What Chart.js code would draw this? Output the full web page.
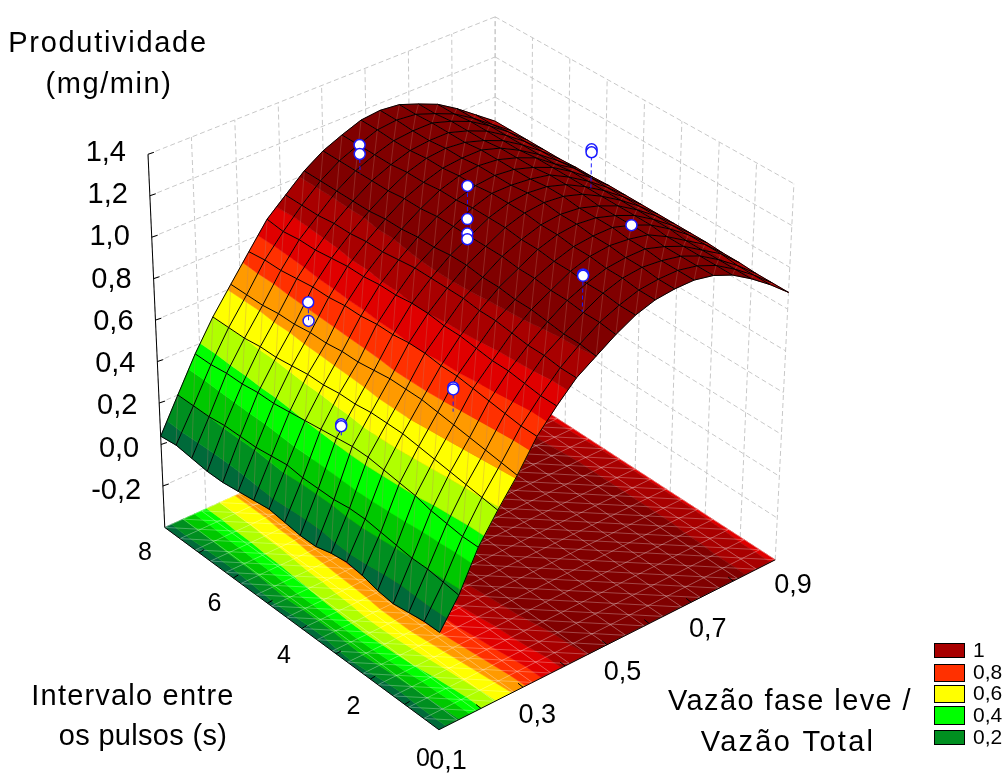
<!DOCTYPE html>
<html>
<head>
<meta charset="utf-8">
<title>Produtividade</title>
<script src="https://cdn.jsdelivr.net/npm/chart.js@4"></script>
<style>
    html, body { margin: 0; padding: 0; background: #fff; }
    canvas { display: block; }
</style>
</head>
<body>
<canvas id="chart" width="1008" height="773"></canvas>
<script>
const xTicks = [0.1, 0.3, 0.5, 0.7, 0.9];
const xGridLines = [0.1, 0.2, 0.3, 0.4, 0.5, 0.6, 0.7, 0.8, 0.9];
const yTicks = [0, 2, 4, 6, 8];
const yGridLines = [0, 1, 2, 3, 4, 5, 6, 7, 8];
const zTicks = [1.4, 1.2, 1.0, 0.8, 0.6, 0.4, 0.2, 0.0, -0.2];
const zGridLines = [1.4, 1.2, 1.0, 0.8, 0.6, 0.4, 0.2, 0.0, -0.2, -0.4];

// surface heights, rows run y = 0 .. 8, columns x = 0.1 .. 0.9
const zGrid = [
    [.05, .18, .36, .49, .61, .75, .85, .94, 1.00, 1.06, 1.11, 1.14, 1.15, 1.15, 1.13, 1.09, 1.03, .96, .88],
    [.05, .19, .36, .50, .62, .75, .85, .94, 1.01, 1.07, 1.11, 1.14, 1.15, 1.15, 1.13, 1.09, 1.03, .96, .88],
    [.04, .20, .37, .51, .63, .76, .86, .95, 1.01, 1.07, 1.12, 1.15, 1.16, 1.15, 1.13, 1.09, 1.03, .96, .88],
    [.03, .20, .38, .52, .64, .77, .87, .95, 1.02, 1.08, 1.12, 1.15, 1.16, 1.16, 1.13, 1.09, 1.03, .97, .885],
    [.04, .21, .40, .53, .65, .78, .87, .96, 1.03, 1.08, 1.13, 1.16, 1.17, 1.16, 1.14, 1.09, 1.03, .97, .885],
    [.06, .22, .41, .54, .66, .79, .88, .97, 1.03, 1.09, 1.13, 1.16, 1.17, 1.17, 1.14, 1.10, 1.04, .97, .89],
    [.07, .23, .42, .55, .67, .79, .89, .97, 1.04, 1.09, 1.14, 1.17, 1.18, 1.17, 1.14, 1.10, 1.04, .97, .89],
    [.06, .23, .43, .55, .67, .80, .89, .98, 1.04, 1.10, 1.14, 1.17, 1.18, 1.17, 1.14, 1.10, 1.04, .97, .89],
    [.04, .22, .43, .55, .67, .80, .90, .98, 1.05, 1.10, 1.15, 1.18, 1.19, 1.18, 1.15, 1.10, 1.04, .97, .89],
    [.04, .22, .42, .54, .66, .79, .90, .98, 1.05, 1.10, 1.15, 1.18, 1.19, 1.18, 1.15, 1.10, 1.04, .97, .89],
    [.05, .22, .41, .54, .65, .79, .89, .98, 1.04, 1.10, 1.15, 1.18, 1.18, 1.17, 1.15, 1.10, 1.04, .97, .89],
    [.06, .23, .40, .53, .65, .78, .89, .97, 1.04, 1.10, 1.14, 1.17, 1.18, 1.17, 1.14, 1.10, 1.04, .97, .89],
    [.05, .22, .39, .53, .64, .78, .88, .96, 1.03, 1.09, 1.14, 1.17, 1.18, 1.17, 1.14, 1.10, 1.03, .97, .885],
    [.04, .21, .38, .52, .64, .77, .88, .96, 1.03, 1.09, 1.13, 1.16, 1.17, 1.17, 1.14, 1.09, 1.03, .96, .885],
    [.03, .21, .38, .51, .63, .77, .87, .95, 1.02, 1.08, 1.13, 1.16, 1.17, 1.16, 1.13, 1.09, 1.03, .96, .88],
    [.03, .21, .37, .51, .63, .76, .86, .95, 1.02, 1.08, 1.12, 1.15, 1.16, 1.16, 1.13, 1.09, 1.03, .96, .88],
    [.04, .20, .37, .50, .62, .75, .86, .94, 1.02, 1.08, 1.12, 1.15, 1.16, 1.16, 1.13, 1.09, 1.03, .96, .88],
    [.05, .20, .36, .50, .62, .75, .85, .94, 1.02, 1.08, 1.12, 1.155, 1.165, 1.155, 1.12, 1.08, 1.02, .95, .88],
    [.04, .20, .36, .50, .62, .74, .86, .94, 1.02, 1.08, 1.12, 1.155, 1.165, 1.155, 1.12, 1.08, 1.02, .95, .88]
];

// measured points: x, y, z
const pointX = [0.5, 0.5, 0.5, 0.5, 0.5, 0.5, 0.8, 0.8, 0.7, 0.5, 0.5, 0.3, 0.3, 0.3, 0.3, 0.2, 0.2];
const pointY = [6.99, 6.99, 4.06, 4.06, 4.06, 4.06, 4.23, 4.23, 1.97, 0.92, 0.92, 6.09, 6.09, 2.06, 2.06, 4, 4];
const pointZ = [1.219, 1.175, 1.336, 1.177, 1.107, 1.08, 1.227, 1.213, 1.187, 1.246, 1.24, 0.731, 0.641, 0.774, 0.765, 0.474, 0.465];
// index of the point that sits under the surface
const hiddenPoint = 12;

const bandLimits = [-9, 0.1, 0.2, 0.3, 0.4, 0.5, 0.6, 0.7, 0.8, 0.9, 1.0, 9];
const bandColors = ['#006a3a', '#008f20', '#00c800', '#00ff00', '#b0ff00', '#ffff00', '#ff9a00', '#ff3000', '#e00000', '#a80000', '#800000'];
const legendLabels = ['1', '0,8', '0,6', '0,4', '0,2'];
const legendColors = ['#a80000', '#ff3000', '#ffff00', '#00ff00', '#008f20'];

// box corners on the page: front, right, left, back
const floorBox = [[438, 736], [779, 563], [160, 530], [495, 378]];
const topBox = [[441, 340], [798, 180], [143, 150], [495, 10]];

function corner(box, u, v) {
    const a = (1 - u) * (1 - v), b = u * (1 - v), c = (1 - u) * v, d = u * v;
    return [a * box[0][0] + b * box[1][0] + c * box[2][0] + d * box[3][0],
            a * box[0][1] + b * box[1][1] + c * box[2][1] + d * box[3][1]];
}

function project(x, y, z) {
    const u = (x - 0.1) / 0.8, v = y / 8, w = (z + 0.4) / 1.8;
    const f = corner(floorBox, u, v), t = corner(topBox, u, v);
    return { x: f[0] + (t[0] - f[0]) * w, y: f[1] + (t[1] - f[1]) * w };
}

const cols = zGrid[0].length, rows = zGrid.length;
const gx = (i) => 0.1 + 0.8 * i / (cols - 1);
const gy = (j) => 8 * j / (rows - 1);

// clip a polygon of [x, y, z] to one side of a height
function clipZ(poly, limit, keepAbove) {
    const out = [];
    poly.forEach((p, k) => {
        const q = poly[(k + 1) % poly.length];
        const pIn = keepAbove ? p[2] >= limit : p[2] <= limit;
        const qIn = keepAbove ? q[2] >= limit : q[2] <= limit;
        if (pIn) out.push(p);
        if (pIn !== qIn) {
            const s = (limit - p[2]) / (q[2] - p[2]);
            out.push([p[0] + (q[0] - p[0]) * s, p[1] + (q[1] - p[1]) * s, limit]);
        }
    });
    return out;
}

function lineSet(data, color, width, dash) {
    return { data, borderColor: color, borderWidth: width, borderDash: dash || [], showLine: true, pointRadius: 0, fill: false, tension: 0 };
}

function fillSet(data, color) {
    return { data, backgroundColor: color, borderColor: color, borderWidth: 0.6, showLine: true, pointRadius: 0, fill: 'shape', tension: 0 };
}

function pointSet(data) {
    return {
        data, showLine: false, pointRadius: 5.5, pointBorderWidth: 1.5,
        pointBackgroundColor: '#fff', pointBorderColor: '#1a1aff'
    };
}

const paint = [];

// walls
const wallColor = '#c8c8c8', wallDash = [5, 3];
xGridLines.forEach((x) => paint.push(lineSet([project(x, 8, -0.4), project(x, 8, 1.4)], wallColor, 1, wallDash)));
yGridLines.forEach((y) => paint.push(lineSet([project(0.9, y, -0.4), project(0.9, y, 1.4)], wallColor, 1, wallDash)));
zGridLines.forEach((z) => {
    paint.push(lineSet([project(0.1, 8, z), project(0.9, 8, z)], wallColor, 1, wallDash));
    paint.push(lineSet([project(0.9, 8, z), project(0.9, 0, z)], wallColor, 1, wallDash));
});

// one surface: far cells first so near cells paint over them
function addCells(flat) {
    const hi = Math.floor((pointX[hiddenPoint] - 0.1) / 0.8 * (cols - 1));
    const hj = Math.floor(pointY[hiddenPoint] / 8 * (rows - 1));
    for (let j = rows - 2; j >= 0; j--) {
        for (let i = cols - 2; i >= 0; i--) {
            const quad = [
                [gx(i), gy(j), zGrid[j][i]],
                [gx(i + 1), gy(j), zGrid[j][i + 1]],
                [gx(i + 1), gy(j + 1), zGrid[j + 1][i + 1]],
                [gx(i), gy(j + 1), zGrid[j + 1][i]]
            ];
            bandColors.forEach((color, b) => {
                let poly = clipZ(quad, bandLimits[b], true);
                if (poly.length) poly = clipZ(poly, bandLimits[b + 1], false);
                if (poly.length < 3) return;
                const pts = poly.map((p) => project(p[0], p[1], flat ? -0.4 : p[2]));
                pts.push(pts[0]);
                paint.push(fillSet(pts, color));
            });
            if (!flat && i === hi && j === hj) {
                paint.push(pointSet([project(pointX[hiddenPoint], pointY[hiddenPoint], pointZ[hiddenPoint])]));
            }
        }
    }
}

// floor contour and its light mesh
addCells(true);
const floorMesh = 'rgba(255,255,255,0.28)';
for (let i = 0; i < cols; i++) paint.push(lineSet([project(gx(i), 0, -0.4), project(gx(i), 8, -0.4)], floorMesh, 1));
for (let j = 0; j < rows; j++) paint.push(lineSet([project(0.1, gy(j), -0.4), project(0.9, gy(j), -0.4)], floorMesh, 1));
for (let k = -(cols - 2); k < rows - 1; k++) {
    const a = Math.max(0, -k), n = Math.min(cols - 1, rows - 1 - k);
    if (n <= a) continue;
    paint.push(lineSet([project(gx(a), gy(rows - 1 - (a + k)), -0.4), project(gx(n), gy(rows - 1 - (n + k)), -0.4)], floorMesh, 1));
}

// box edges and ticks
const axisColor = '#000';
paint.push(lineSet([project(0.1, 8, -0.4), project(0.1, 8, 1.4)], axisColor, 1));
paint.push(lineSet([project(0.1, 8, -0.4), project(0.1, 0, -0.4)], axisColor, 1));
paint.push(lineSet([project(0.1, 0, -0.4), project(0.9, 0, -0.4)], axisColor, 1));
zGridLines.slice(0, -1).forEach((z) => {
    const p = project(0.1, 8, z);
    paint.push(lineSet([p, { x: p.x + 6, y: p.y - 2 }], axisColor, 1));
});
xGridLines.slice(1, -1).forEach((x) => {
    const p = project(x, 0, -0.4);
    paint.push(lineSet([p, { x: p.x - 5, y: p.y - 4 }], axisColor, 1));
});
yGridLines.slice(1, -1).forEach((y) => {
    const p = project(0.1, y, -0.4);
    paint.push(lineSet([p, { x: p.x + 5, y: p.y - 3 }], axisColor, 1));
});

// surface with its mesh
addCells(false);
const lightMesh = 'rgba(190,125,110,0.3)';
for (let k = -(rows - 2); k < cols - 1; k++) {
    const pts = [];
    for (let j = 0; j < rows; j++) {
        const i = j + k;
        if (i >= 0 && i < cols) pts.push(project(gx(i), gy(j), zGrid[j][i]));
    }
    paint.push(lineSet(pts, lightMesh, 1));
}
for (let j = 0; j < rows; j++) {
    paint.push(lineSet(zGrid[j].map((z, i) => project(gx(i), gy(j), z)), '#000', 1));
}
for (let i = 0; i < cols; i++) {
    paint.push(lineSet(zGrid.map((row, j) => project(gx(i), gy(j), row[i])), '#000', 1));
}

// drop lines, one per spot so replicates do not fill in the dashes
pointX.forEach((x, n) => {
    if (n > 0 && pointX[n - 1] === x && pointY[n - 1] === pointY[n]) return;
    const i = Math.round((x - 0.1) / 0.8 * (cols - 1)), j = Math.round(pointY[n] / 8 * (rows - 1));
    if (pointZ[n] > zGrid[j][i] + 0.02) {
        paint.push(lineSet([project(x, pointY[n], pointZ[n]), project(x, pointY[n], zGrid[j][i])], '#1a1aff', 1, [4, 3]));
    }
});
paint.push(pointSet(pointX.map((x, n) => project(x, pointY[n], pointZ[n])).filter((p, n) => n !== hiddenPoint)));

const textPlugin = {
    id: 'chartText',
    afterDraw(chart) {
        const ctx = chart.ctx;
        const put = (text, x, y, size, align, spacing) => {
            ctx.font = `${size}px "Liberation Sans", Arial, sans-serif`;
            ctx.letterSpacing = `${spacing || 0}px`;
            ctx.textAlign = align;
            ctx.textBaseline = 'middle';
            ctx.fillStyle = '#000';
            ctx.fillText(text, x, y);
        };
        put('Produtividade', 108, 44, 29, 'center', 1.7);
        put('(mg/min)', 109, 85, 29, 'center', 1.6);
        zTicks.forEach((z) => {
            const p = project(0.1, 8, z);
            put(String(z.toFixed(1)).replace('.', ','), p.x - 17, p.y + 3, 29, 'right', 0);
        });
        yTicks.forEach((y) => {
            const p = project(0.1, y, -0.4);
            put(String(y), p.x - 15, p.y + 23, 25, 'center', 0);
        });
        xTicks.forEach((x, n) => {
            const p = project(x, 0, -0.4);
            put(x.toFixed(1).replace('.', ','), p.x + (n ? 14 : 10), p.y + (n ? 23 : 26), 27, 'center', 0);
        });
        put('Intervalo entre', 133, 697, 29, 'center', 1.2);
        put('os pulsos (s)', 143, 737, 29, 'center', 0.3);
        put('Vazão fase leve /', 790, 702, 29, 'center', 1.4);
        put('Vazão Total', 788, 743, 29, 'center', 2.3);

        const legendTop = [643, 664, 685, 706, 730], legendBottom = [658, 682, 703, 725, 745];
        legendLabels.forEach((label, n) => {
            ctx.fillStyle = legendColors[n];
            ctx.fillRect(934, legendTop[n], 31, legendBottom[n] - legendTop[n]);
            ctx.strokeStyle = '#000';
            ctx.lineWidth = 1;
            ctx.strokeRect(934.5, legendTop[n] + 0.5, 30, legendBottom[n] - legendTop[n] - 1);
            put(label, 973, (legendTop[n] + legendBottom[n]) / 2 + 0.5, 21, 'left', 0);
        });
    }
};

new Chart(document.getElementById('chart'), {
    type: 'scatter',
    data: { datasets: paint.reverse() },
    options: {
        responsive: false,
        animation: false,
        events: [],
        layout: { padding: 0 },
        plugins: { legend: { display: false }, tooltip: { enabled: false } },
        scales: {
            x: { type: 'linear', min: 0, max: 1008, display: false },
            y: { type: 'linear', min: 0, max: 773, reverse: true, display: false }
        }
    },
    plugins: [textPlugin]
});
</script>
</body>
</html>
